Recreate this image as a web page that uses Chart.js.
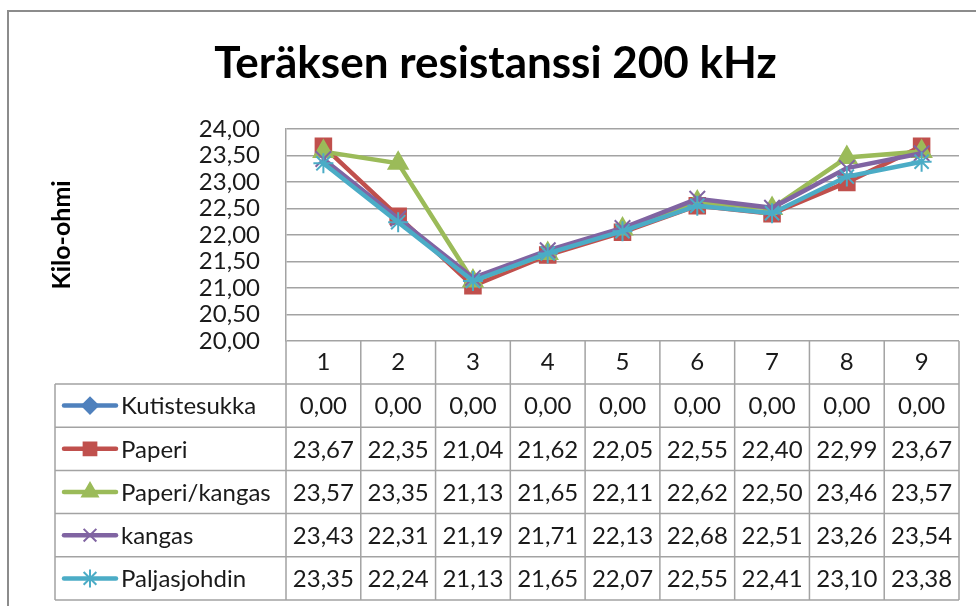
<!DOCTYPE html>
<html>
<head>
<meta charset="utf-8">
<script src="https://cdn.jsdelivr.net/npm/chart.js@4"></script>
<style>
html,body{margin:0;padding:0;background:#fff;}
#wrap{width:976px;height:606px;position:relative;overflow:hidden;}
canvas{display:block;}
</style>
</head>
<body>
<div id="wrap"><canvas id="c" width="976" height="606"></canvas></div>
<script>
// ---- data ----
const categories = ['1','2','3','4','5','6','7','8','9'];
const seriesNames = ['Kutistesukka','Paperi','Paperi/kangas','kangas','Paljasjohdin'];
const kutistesukka = [0.00,0.00,0.00,0.00,0.00,0.00,0.00,0.00,0.00];
const paperi       = [23.67,22.35,21.04,21.62,22.05,22.55,22.40,22.99,23.67];
const paperiKangas = [23.57,23.35,21.13,21.65,22.11,22.62,22.50,23.46,23.57];
const kangas       = [23.43,22.31,21.19,21.71,22.13,22.68,22.51,23.26,23.54];
const paljasjohdin = [23.35,22.24,21.13,21.65,22.07,22.55,22.41,23.10,23.38];
const yMin = 20, yMax = 24, yStep = 0.5;
const titleText = 'Teräksen resistanssi 200 kHz';
const yTitle = 'Kilo-ohmi';

// ---- styles ----
const FONT = 'Lato, "Open Sans", "Noto Sans", sans-serif';
const GRID = '#a3a3a3';
const TEXT = '#1a1a1a';
const colors = ['#4F81BD','#C0504D','#9BBB59','#8064A2','#4BACC6'];
const styles = ['rectRot','rect','triangle','crossRot','star'];
const radii = [8,11,11,11,10];
const seriesData = [kutistesukka, paperi, paperiKangas, kangas, paljasjohdin];

const fmt = v => Number(v).toFixed(2).replace('.', ',');

Chart.defaults.font.family = FONT;

function drawMarker(ctx, style, r, x, y, color, bw){
  ctx.save();
  ctx.fillStyle = color; ctx.strokeStyle = color; ctx.lineWidth = bw;
  if (Chart.helpers && Chart.helpers.drawPoint) {
    Chart.helpers.drawPoint(ctx, {pointStyle: style, radius: r, rotation: 0, borderWidth: bw}, x, y);
  }
  ctx.restore();
}

const tablePlugin = {
  id: 'dataTable',
  beforeDraw(chart){
    const ctx = chart.ctx;
    ctx.save(); ctx.fillStyle = '#fff'; ctx.fillRect(0,0,chart.width,chart.height); ctx.restore();
  },
  afterDraw(chart){
    const ctx = chart.ctx, xs = chart.scales.x, area = chart.chartArea;
    const n = categories.length;
    const w = (area.right - area.left) / n;
    const top = xs.bottom;
    const rowH = 43.2;
    const rows = seriesNames.length;
    const bottom = top + rowH * rows;
    const legLeft = 55;
    ctx.save();
    ctx.strokeStyle = GRID; ctx.lineWidth = 1.5;
    ctx.beginPath();
    for (let i = 0; i <= n; i++) {
      const x = (i < n ? xs.getPixelForValue(i) - w/2 : xs.getPixelForValue(n-1) + w/2);
      ctx.moveTo(x, area.bottom); ctx.lineTo(x, bottom);
    }
    ctx.moveTo(legLeft, top); ctx.lineTo(legLeft, bottom);
    for (let r = 0; r <= rows; r++) {
      const y = top + r * rowH;
      ctx.moveTo(legLeft, y); ctx.lineTo(area.right, y);
    }
    ctx.stroke();

    ctx.font = '24px ' + FONT;
    ctx.fillStyle = TEXT;
    ctx.textBaseline = 'middle';
    for (let r = 0; r < rows; r++) {
      const cy = top + r * rowH + rowH/2;
      // legend key
      ctx.save();
      ctx.strokeStyle = colors[r]; ctx.lineWidth = 4.5; ctx.lineCap = 'round';
      ctx.beginPath(); ctx.moveTo(64, cy); ctx.lineTo(116, cy); ctx.stroke();
      ctx.restore();
      drawMarker(ctx, styles[r], Math.min(radii[r], 9), 90, cy, colors[r], 2);
      ctx.fillStyle = TEXT;
      ctx.textAlign = 'left';
      ctx.fillText(seriesNames[r], 121, cy + 1);
      ctx.textAlign = 'center';
      for (let i = 0; i < n; i++) {
        ctx.fillText(fmt(seriesData[r][i]), xs.getPixelForValue(i), cy + 1);
      }
    }
    // outer chart border
    ctx.strokeStyle = '#8c8c8c'; ctx.lineWidth = 2;
    ctx.strokeRect(8, 11, 1200, 800);
    ctx.restore();
  }
};

const datasets = seriesNames.map((name, i) => ({
  label: name,
  data: seriesData[i],
  borderColor: colors[i],
  backgroundColor: colors[i],
  pointBackgroundColor: colors[i],
  pointBorderColor: colors[i],
  pointStyle: styles[i],
  pointRadius: radii[i],
  pointBorderWidth: 2,
  borderWidth: 4.5,
  tension: 0,
  order: seriesNames.length - i
}));

new Chart(document.getElementById('c'), {
  type: 'line',
  data: { labels: categories, datasets },
  options: {
    responsive: false,
    devicePixelRatio: 1,
    animation: false,
    layout: { padding: { top: 0, left: 32, right: 17, bottom: 222 } },
    plugins: {
      legend: { display: false },
      tooltip: { enabled: false },
      title: {
        display: true,
        text: titleText,
        color: '#000',
        font: { size: 44, weight: 'bold', family: FONT },
        padding: { top: 37, bottom: 39 }
      }
    },
    scales: {
      x: {
        offset: true,
        grid: { display: false, drawTicks: false },
        border: { display: false },
        ticks: { color: TEXT, font: { size: 24 }, padding: 7 },
        afterFit(s){ s.height = 43; }
      },
      y: {
        min: yMin, max: yMax,
        ticks: { stepSize: yStep, autoSkip: false, color: TEXT, font: { size: 24 }, padding: 26, callback: v => fmt(v) },
        grid: { color: GRID, lineWidth: 1.5, drawTicks: false },
        border: { color: GRID, width: 1.5 },
        title: { display: true, text: yTitle, color: '#000', font: { size: 25, weight: 'bold' }, padding: { top: 15, bottom: 0 } },
        afterFit(s){ s.width = 254; }
      }
    }
  },
  plugins: [tablePlugin]
});
</script>
</body>
</html>
